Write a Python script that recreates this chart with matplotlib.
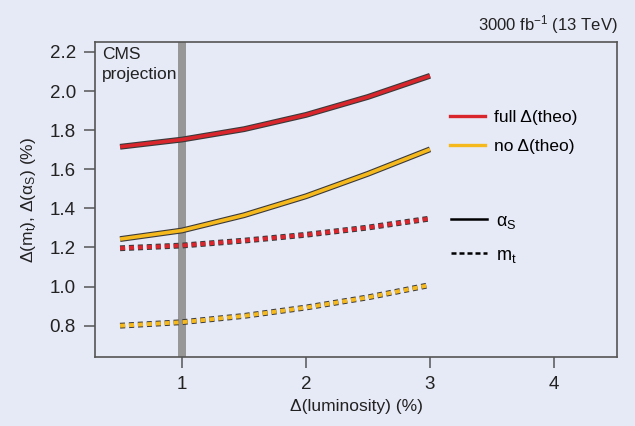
import matplotlib
matplotlib.use("Agg")
import matplotlib.pyplot as plt
import matplotlib.patheffects as pe
from matplotlib.lines import Line2D

plt.rcParams['font.family'] = ['Liberation Sans', 'DejaVu Sans']
plt.rcParams['mathtext.fontset'] = 'custom'
plt.rcParams['mathtext.rm'] = 'Liberation Sans'
plt.rcParams['mathtext.it'] = 'Liberation Sans'

lumi = [0.5, 1.0, 1.5, 2.0, 2.5, 3.0]
alphas_full = [1.715, 1.752, 1.805, 1.878, 1.970, 2.078]
alphas_none = [1.243, 1.287, 1.365, 1.462, 1.577, 1.702]
mt_full = [1.196, 1.210, 1.235, 1.265, 1.302, 1.348]
mt_none = [0.800, 0.818, 0.850, 0.893, 0.945, 1.008]

red = '#d8262c'
yellow = '#f6b91d'
bg = '#e6e9f6'
edge = '#3a3a3a'

fig = plt.figure(figsize=(6.35, 4.26), dpi=100, facecolor=bg)
ax = fig.add_axes([0.150, 0.162, 0.822, 0.739], facecolor=bg)

ax.axvspan(0.965, 1.035, color='#979797', lw=0, zorder=1)

stroke = [pe.Stroke(linewidth=4.2, foreground=edge), pe.Normal()]
ax.plot(lumi, alphas_full, color=red, lw=2.6, path_effects=stroke, zorder=3, solid_capstyle='butt')
ax.plot(lumi, alphas_none, color=yellow, lw=2.6, path_effects=stroke, zorder=3, solid_capstyle='butt')
ax.plot(lumi, mt_full, color=red, lw=2.8, ls=(0, (1.3, 1.0)), path_effects=stroke, zorder=3)
ax.plot(lumi, mt_none, color=yellow, lw=2.8, ls=(0, (1.3, 1.0)), path_effects=stroke, zorder=3)

ax.set_xlim(0.3, 4.51)
ax.set_ylim(0.64, 2.25)
ax.set_xticks([1, 2, 3, 4])
ax.set_yticks([0.8, 1.0, 1.2, 1.4, 1.6, 1.8, 2.0, 2.2])
ax.set_yticklabels(['0.8', '1.0', '1.2', '1.4', '1.6', '1.8', '2.0', '2.2'])
for s in ax.spines.values():
    s.set_color('#555555')
    s.set_linewidth(1.2)
ax.tick_params(axis='both', direction='out', length=8, width=1.1, color='#555555',
               labelsize=13.5, labelcolor='#222222', pad=6)

ax.set_xlabel('Δ(luminosity) (%)', fontsize=12.5, color='#222222', labelpad=4)
ax.set_ylabel(r'Δ(m$_\mathregular{t}$), Δ(α$_\mathregular{S}$) (%)', fontsize=12.5, color='#222222', labelpad=8)

ax.text(0.355, 2.225, 'CMS\nprojection', fontsize=12.5, color='#222222', va='top', ha='left',
        linespacing=1.4, zorder=4)
ax.text(1.0, 1.02, r'3000 fb$^{-1}$ (13 TeV)', transform=ax.transAxes, ha='right', va='bottom',
        fontsize=12, color='#222222')

h1 = [Line2D([], [], color=red, lw=2.4), Line2D([], [], color=yellow, lw=2.4)]
leg1 = ax.legend(h1, ['full Δ(theo)', 'no Δ(theo)'], loc='upper left',
                 bbox_to_anchor=(0.65, 0.835), frameon=False, fontsize=12.5,
                 handlelength=2.0, handletextpad=0.5, labelspacing=0.82)
ax.add_artist(leg1)
h2 = [Line2D([], [], color='black', lw=1.8), Line2D([], [], color='black', lw=1.8, ls=(0, (2, 1.2)))]
ax.legend(h2, [r'α$_\mathregular{S}$', r'm$_\mathregular{t}$'], loc='upper left',
          bbox_to_anchor=(0.65, 0.51), frameon=False, fontsize=13,
          handlelength=2.0, handletextpad=0.5, labelspacing=0.88)

fig.savefig('out.png', dpi=100, facecolor=bg)
